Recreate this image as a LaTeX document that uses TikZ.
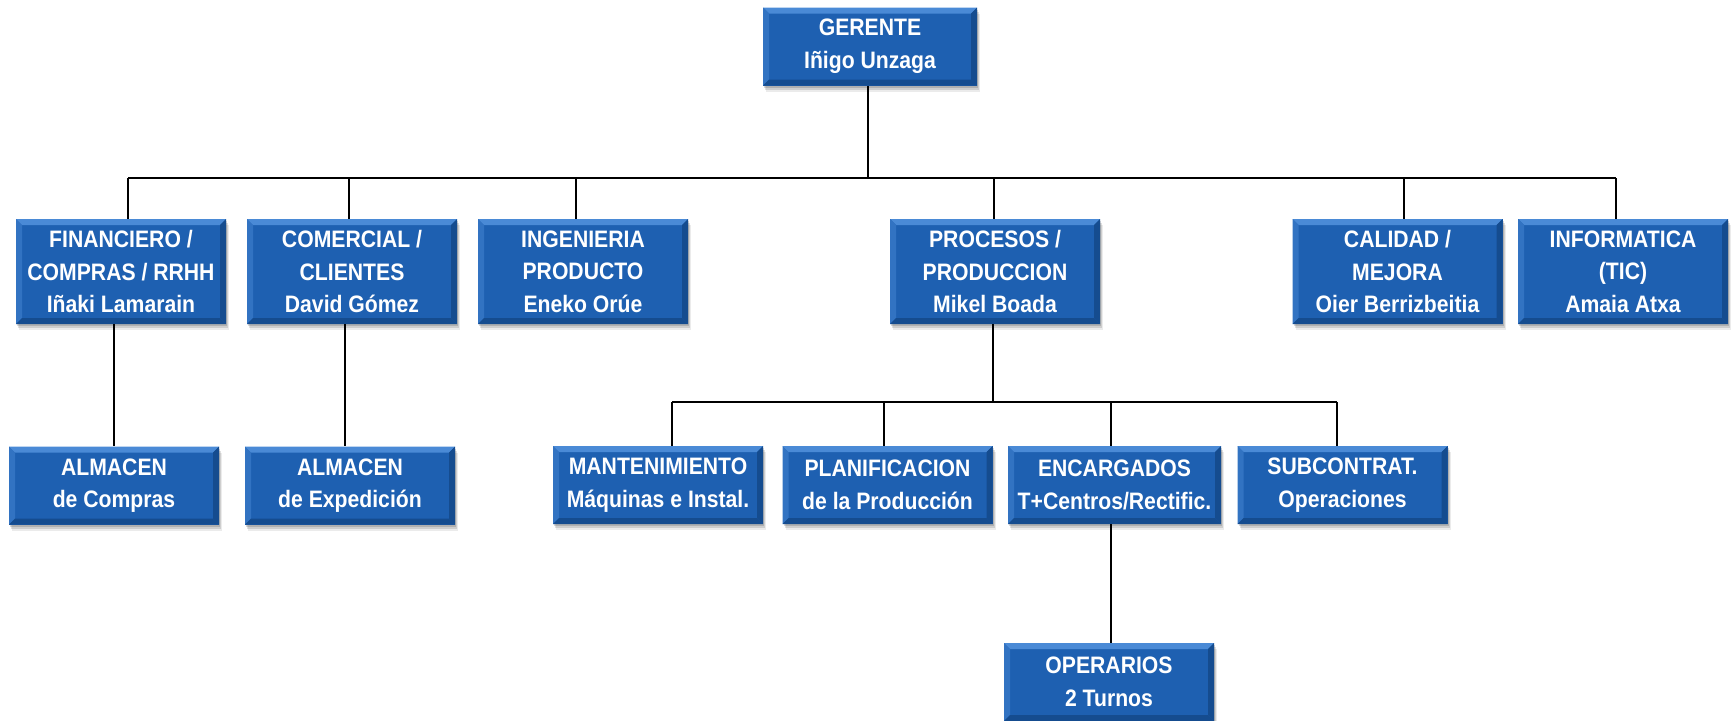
\documentclass[tikz,border=0pt]{standalone}
\usepackage{fontspec}
\setmainfont{Liberation Sans}[FakeStretch=0.89]
\usepackage{tikz}
\usetikzlibrary{shadows}

\definecolor{boxblue}{HTML}{1E60B1}
\definecolor{bevlight}{HTML}{4A8AD6}
\definecolor{bevside}{HTML}{3273C2}
\definecolor{bevdark}{HTML}{154C8F}

\newcommand\boxbevel{%
  \fill[bevlight] (path picture bounding box.north west) -- (path picture bounding box.north east)
    -- ([xshift=-3pt,yshift=-3pt]path picture bounding box.north east) -- ([xshift=3pt,yshift=-3pt]path picture bounding box.north west) -- cycle;
  \fill[bevside] (path picture bounding box.north west) -- ([xshift=3pt,yshift=-3pt]path picture bounding box.north west)
    -- ([xshift=3pt,yshift=3pt]path picture bounding box.south west) -- (path picture bounding box.south west) -- cycle;
  \fill[bevdark] (path picture bounding box.north east) -- ([xshift=-3pt,yshift=-3pt]path picture bounding box.north east)
    -- ([xshift=-3pt,yshift=3pt]path picture bounding box.south east) -- (path picture bounding box.south east) -- cycle;
  \fill[bevdark] (path picture bounding box.south west) -- ([xshift=3pt,yshift=3pt]path picture bounding box.south west)
    -- ([xshift=-3pt,yshift=3pt]path picture bounding box.south east) -- (path picture bounding box.south east) -- cycle;
}

\tikzset{
  orgbox/.style={rectangle, fill=boxblue, text=white, align=center, inner sep=0pt,
    minimum width=105pt, minimum height=52.5pt,
    font=\bfseries\fontsize{11.9}{16.3}\selectfont,
    drop shadow={shadow xshift=0.5pt, shadow yshift=-1pt, fill=black, opacity=0.15},
    drop shadow={shadow xshift=1pt, shadow yshift=-2pt, fill=black, opacity=0.12},
    drop shadow={shadow xshift=1.5pt, shadow yshift=-3pt, fill=black, opacity=0.08},
    path picture={\boxbevel}},
  lowbox/.style={orgbox, minimum height=39pt},
  link/.style={draw=black, line width=1pt}
}

\begin{document}
\begin{tikzpicture}[x=0.5pt,y=-0.5pt]

\useasboundingbox (0,0) rectangle (1733,720);

% top
\node[lowbox, minimum width=107pt] (ger) at (870,46.5) {GERENTE\\Iñigo Unzaga};

% departments
\node[orgbox] (fin)  at (121,271.5)    {FINANCIERO /\\COMPRAS / RRHH\\Iñaki Lamarain};
\node[orgbox] (com)  at (352,271.5)    {COMERCIAL /\\CLIENTES\\David Gómez};
\node[orgbox] (ing)  at (583,271.5)    {INGENIERIA\\PRODUCTO\\Eneko Orúe};
\node[orgbox] (proc) at (995,271.5)    {PROCESOS /\\PRODUCCION\\Mikel Boada};
\node[orgbox] (cal)  at (1397.5,271.5) {CALIDAD /\\MEJORA\\Oier Berrizbeitia};
\node[orgbox] (inf)  at (1623,271.5)   {INFORMATICA\\(TIC)\\Amaia Atxa};

% second level
\node[lowbox] (almc) at (114,485.5)    {ALMACEN\\de Compras};
\node[lowbox] (alme) at (350,485.5)    {ALMACEN\\de Expedición};
\node[lowbox] (mant) at (658,485)      {MANTENIMIENTO\\Máquinas e Instal.};
\node[lowbox] (plan) at (887.5,485)    {PLANIFICACION\\de la Producción};
\node[lowbox, minimum width=106.5pt] (enc) at (1114.5,485) {ENCARGADOS\\T+Centros/Rectific.};
\node[lowbox] (sub)  at (1342.5,485)   {SUBCONTRAT.\\Operaciones};
\node[lowbox] (oper) at (1109,682)     {OPERARIOS\\2 Turnos};

% bar under gerente
\coordinate (g)  at (868,178);
\coordinate (b1) at (128,178);
\coordinate (b2) at (349,178);
\coordinate (b3) at (576,178);
\coordinate (b4) at (993.5,178);
\coordinate (b5) at (1404,178);
\coordinate (b6) at (1616,178);

\draw[link] (g |- ger.south) -- (g);
\draw[link] (b1) -- (b6);
\draw[link] (b1) -- (b1 |- fin.north);
\draw[link] (b2) -- (b2 |- com.north);
\draw[link] (b3) -- (b3 |- ing.north);
\draw[link] (b4) -- (b4 |- proc.north);
\draw[link] (b5) -- (b5 |- cal.north);
\draw[link] (b6) -- (b6 |- inf.north);

% almacenes
\coordinate (a1) at (114,324);
\coordinate (a2) at (344.5,324);
\draw[link] (a1 |- fin.south) -- (a1 |- almc.north);
\draw[link] (a2 |- com.south) -- (a2 |- alme.north);

% bar under procesos
\coordinate (p)  at (992.5,402);
\coordinate (p1) at (672,402);
\coordinate (p2) at (884,402);
\coordinate (p3) at (1111,402);
\coordinate (p4) at (1337,402);

\draw[link] (p |- proc.south) -- (p);
\draw[link] (p1) -- (p4);
\draw[link] (p1) -- (p1 |- mant.north);
\draw[link] (p2) -- (p2 |- plan.north);
\draw[link] (p3) -- (p3 |- enc.north);
\draw[link] (p4) -- (p4 |- sub.north);
\draw[link] (p3 |- enc.south) -- (p3 |- oper.north);

\end{tikzpicture}
\end{document}
